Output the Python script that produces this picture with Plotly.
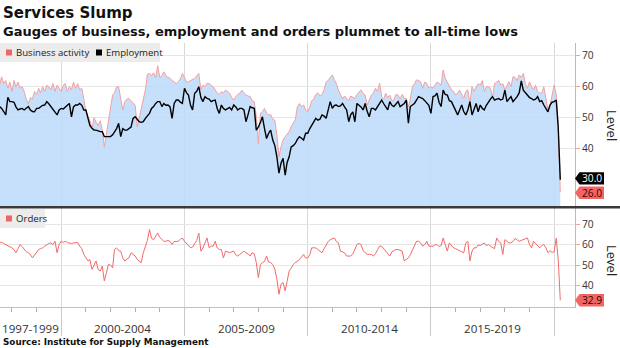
import pandas as pd
import plotly.graph_objects as go

# ---------------- data (monthly, Jul 1997 - Apr 2020) ----------------
start_month = "1997-07-01"

business_activity = [
    60.5, 63.2, 61.0, 62.0, 59.5, 61.5,                                  # 1997 H2
    58.5, 62.0, 60.0, 61.5, 59.5, 60.0, 58.5, 56.0, 54.5, 56.5, 56.0, 58.5,  # 1998
    57.5, 59.5, 58.0, 60.0, 58.5, 60.5, 60.0, 59.0, 61.0, 58.5, 60.5, 59.5,  # 1999
    58.5, 60.5, 61.0, 58.5, 60.0, 59.0, 61.5, 59.5, 61.0, 59.0, 59.5, 56.0,  # 2000
    52.0, 50.5, 49.0, 46.5, 50.0, 48.5, 47.5, 49.0, 46.0, 40.6, 44.5, 48.5,  # 2001
    53.5, 57.3, 58.0, 60.0, 60.0, 56.5, 52.5, 55.2, 56.0, 56.2, 55.5, 55.0,  # 2002
    54.0, 47.1, 50.0, 53.5, 56.0, 58.9, 64.0, 64.3, 63.5, 64.5, 63.0, 66.8,  # 2003
    63.0, 63.5, 64.8, 63.5, 63.0, 62.7, 62.0, 61.5, 61.0, 61.6, 62.5, 64.3,  # 2004
    62.7, 61.5, 61.6, 62.0, 62.2, 62.7, 63.5, 64.3, 59.0, 60.5, 60.0, 61.1,  # 2005
    61.0, 60.5, 60.0, 59.0, 57.9, 57.5, 58.4, 58.0, 58.9, 58.5, 57.9, 56.5,  # 2006
    55.7, 56.8, 57.5, 57.9, 58.9, 58.0, 57.3, 57.0, 56.8, 55.5, 55.2, 50.3,  # 2007
    41.7, 51.4, 52.0, 53.0, 51.5, 50.9, 51.0, 49.5, 49.2, 44.4, 37.4, 40.6,  # 2008
    42.8, 43.9, 44.5, 45.5, 47.1, 48.5, 49.3, 53.6, 54.6, 53.5, 54.1, 52.5,  # 2009
    52.0, 53.5, 55.5, 56.0, 57.5, 58.0, 57.0, 57.5, 59.0, 61.5, 62.0, 63.0,  # 2010
    63.8, 62.2, 61.0, 58.9, 57.5, 56.0, 57.0, 56.2, 55.5, 57.0, 56.5, 56.2,  # 2011
    57.5, 58.4, 59.0, 57.8, 57.3, 54.1, 56.0, 57.3, 58.0, 59.5, 58.5, 61.1,  # 2012
    56.8, 56.0, 57.9, 56.5, 57.3, 55.5, 55.7, 57.5, 57.3, 56.0, 57.5, 56.2,  # 2013
    56.2, 53.5, 56.0, 60.0, 61.0, 62.2, 62.0, 61.6, 59.5, 61.5, 61.1, 59.5,  # 2014
    60.0, 59.5, 60.5, 61.5, 61.1, 60.5, 65.4, 62.7, 61.5, 60.0, 59.0, 58.5,  # 2015
    57.3, 58.0, 58.9, 57.5, 56.2, 58.5, 59.0, 54.5, 60.0, 58.5, 60.0, 61.0,  # 2016
    60.5, 62.0, 58.5, 60.0, 60.0, 59.5, 56.5, 61.0, 61.5, 62.0, 60.5, 61.0,  # 2017
    58.9, 60.5, 61.6, 60.0, 63.2, 63.0, 62.0, 63.8, 63.0, 64.3, 61.0, 59.5,  # 2018
    61.6, 60.0, 59.0, 60.5, 58.5, 57.9, 58.0, 60.0, 55.5, 52.5, 54.0, 57.0,  # 2019
    60.5, 57.5, 48.0, 26.0,                                              # 2020
]

employment = [
    53.6, 53.0, 52.0, 50.9, 56.6, 55.2,
    55.2, 55.0, 53.5, 52.5, 52.8, 53.0, 52.5, 53.0, 53.6, 52.5, 52.0, 51.9,
    53.0, 53.0, 53.6, 54.0, 54.1, 55.2, 54.5, 53.6, 53.0, 52.0, 50.9, 52.5,
    53.0, 52.8, 53.5, 54.0, 54.6, 50.3, 53.5, 54.1, 54.1, 54.6, 54.0, 52.5,
    52.5, 50.3, 47.5, 46.6, 46.0, 46.0, 45.7, 45.5, 45.5, 43.9, 43.9, 43.9,
    43.9, 44.5, 45.5, 46.5, 48.2, 43.9, 46.5, 46.0, 46.0, 46.5, 47.0, 49.8,
    50.3, 49.5, 48.7, 48.5, 48.7, 49.8, 50.5, 51.4, 53.0, 53.6, 54.6, 55.2,
    55.2, 53.6, 54.6, 54.0, 54.1, 53.5, 49.8, 54.6, 55.7, 55.7, 55.0, 54.6,
    59.5, 58.0, 57.3, 54.0, 52.5, 57.9, 58.5, 60.0, 56.5, 55.2, 56.8, 56.2,
    56.0, 55.2, 55.5, 55.7, 53.0, 51.4, 54.1, 53.0, 52.5, 53.0, 53.3, 52.5,
    54.1, 53.5, 52.5, 53.0, 53.0, 52.5, 48.7, 51.0, 53.6, 53.2, 53.0, 46.0,
    47.0, 48.5, 50.3, 46.5, 43.3, 45.0, 46.0, 42.8, 41.0, 37.4, 32.1, 35.3,
    36.9, 31.5, 35.5, 37.4, 40.6, 41.0, 41.7, 43.0, 43.9, 43.4, 42.8, 45.0,
    45.0, 46.5, 47.6, 48.5, 49.8, 49.2, 49.5, 50.9, 50.5, 49.8, 52.5, 55.2,
    53.0, 54.0, 54.1, 53.6, 53.8, 54.6, 53.5, 52.5, 48.7, 51.0, 51.9, 48.7,
    54.6, 54.1, 53.5, 52.5, 54.6, 52.0, 50.3, 53.0, 53.0, 52.5, 53.5, 54.6,
    55.7, 54.5, 53.6, 52.5, 55.2, 54.0, 53.6, 54.5, 55.2, 53.6, 54.0, 54.6,
    55.7, 48.2, 53.6, 54.1, 54.6, 55.7, 56.8, 56.5, 56.2, 55.5, 54.6, 54.0,
    51.4, 56.8, 57.0, 57.9, 55.0, 53.6, 58.9, 57.5, 57.3, 55.5, 55.2, 53.6,
    52.5, 50.9, 52.5, 54.1, 52.0, 50.9, 52.5, 55.2, 50.9, 53.0, 54.6, 51.9,
    54.1, 53.0, 52.5, 54.0, 55.2, 56.0, 56.8, 55.7, 56.0, 56.2, 55.7, 56.0,
    58.9, 55.2, 56.0, 56.8, 55.2, 56.0, 56.8, 58.0, 61.9, 58.9, 58.0, 57.3,
    56.5, 56.2, 55.7, 56.0, 56.8, 55.2, 55.5, 54.1, 53.0, 51.9, 54.1, 55.0,
    55.2, 55.7, 47.0, 30.0,
]

orders = [
    60.8, 61.1, 60.5, 60.0, 59.5, 59.2,
    58.4, 57.5, 56.0, 58.0, 60.0, 59.0, 57.6, 56.5, 56.0, 55.2, 53.5, 55.0,
    56.0, 57.6, 58.0, 58.4, 59.2, 60.0, 60.5, 60.8, 60.0, 61.6, 56.0, 60.0,
    61.6, 61.0, 61.6, 61.0, 60.8, 60.5, 60.8, 60.8, 61.0, 59.2, 58.0, 55.2,
    53.5, 52.0, 52.7, 47.9, 50.0, 52.0, 47.9, 47.1, 49.5, 42.3, 46.3, 50.3,
    50.0, 48.7, 57.6, 58.4, 57.0, 56.8, 53.5, 52.0, 53.0, 53.5, 56.0, 55.0,
    54.4, 52.7, 52.0, 51.2, 56.0, 59.2, 62.0, 67.3, 63.0, 62.4, 64.0, 65.6,
    63.5, 62.4, 61.6, 61.6, 62.0, 61.5, 60.0, 61.5, 61.6, 61.6, 62.5, 63.2,
    61.6, 60.5, 59.2, 58.4, 58.8, 60.8, 62.0, 65.6, 56.8, 58.4, 61.0, 63.2,
    58.5, 59.2, 59.2, 61.6, 58.4, 57.6, 57.6, 53.5, 56.8, 56.5, 56.0, 56.5,
    56.8, 55.0, 54.4, 55.2, 56.0, 56.8, 56.0, 55.5, 54.4, 56.0, 55.5, 51.2,
    43.9, 50.3, 51.2, 51.8, 54.4, 51.5, 51.2, 50.3, 48.0, 43.1, 35.8, 40.7,
    41.5, 37.5, 42.0, 47.1, 48.5, 50.3, 51.2, 52.0, 52.7, 54.0, 55.2, 53.5,
    53.5, 55.0, 58.4, 58.4, 58.4, 57.6, 57.0, 56.0, 58.0, 60.0, 61.5, 62.4,
    63.0, 63.2, 61.5, 60.8, 56.8, 56.5, 56.0, 54.4, 54.4, 54.4, 55.5, 57.5,
    60.0, 60.5, 60.0, 57.0, 56.0, 55.2, 55.2, 55.2, 54.4, 55.5, 57.5, 59.2,
    59.2, 58.0, 57.0, 56.0, 54.4, 56.5, 57.0, 57.6, 57.6, 57.0, 56.8, 52.0,
    53.0, 53.5, 55.0, 57.0, 59.2, 61.6, 61.6, 60.8, 59.2, 60.0, 61.6, 59.2,
    59.2, 59.2, 59.8, 60.0, 59.0, 59.5, 63.2, 59.5, 56.8, 60.8, 59.5, 58.4,
    58.0, 57.6, 57.0, 56.5, 56.0, 60.8, 61.6, 52.0, 56.8, 58.4, 58.4, 59.8,
    59.5, 60.0, 60.8, 59.5, 60.0, 59.2, 58.4, 58.0, 63.2, 61.5, 60.8, 55.2,
    62.4, 61.5, 60.8, 60.8, 61.5, 63.0, 62.4, 61.6, 62.0, 62.5, 63.0, 63.2,
    60.0, 58.4, 61.6, 60.5, 59.0, 58.4, 59.5, 60.0, 58.4, 56.0, 57.0, 56.2,
    56.5, 63.1, 52.9, 32.9,
]

period_labels = ["1997-1999", "2000-2004", "2005-2009", "2010-2014", "2015-2019"]
top_ticks = [40, 50, 60, 70]
bottom_ticks = [40, 50, 60, 70]

assert len(business_activity) == len(employment) == len(orders) == 274

dates = pd.date_range(start_month, periods=len(business_activity), freq="MS")

# ---------------- geometry / style ----------------
W, H = 620, 348
ML, MR, MT, MB = 0, 45, 43, 41
PW = W - ML - MR           # 575
PH = H - MT - MB           # 264
X_RANGE = ["1997-07-08", "2020-11-05"]
TOP_RANGE = [21.2, 74.1]
BOT_RANGE = [29.6, 77.8]
TOP_DOM = [(307 - 207) / PH, 1.0]
BOT_DOM = [0.0, (307 - 208) / PH]

def py(px):               # pixel y -> paper y
    return (MT + PH - px) / PH

def pxx(px):              # pixel x -> paper x
    return (px - ML) / PW

TICK_FONT = dict(family="Open Sans", size=10.2, color="#333333")
GRID = "#e6e6e6"
AXIS_RED = "#f4a3a3"
BA_LINE = "#f4a0a0"
BA_FILL = "rgba(188,218,250,0.85)"
ORD_LINE = "#f26a6a"
RED_BOX = "#f26565"

fig = go.Figure()
fig.add_trace(go.Scatter(x=dates, y=business_activity, mode="lines",
                         line=dict(color=BA_LINE, width=1),
                         fill="tozeroy", fillcolor=BA_FILL,
                         xaxis="x", yaxis="y", showlegend=False, hoverinfo="skip"))
fig.add_trace(go.Scatter(x=dates, y=employment, mode="lines",
                         line=dict(color="#000000", width=1.4),
                         xaxis="x", yaxis="y", showlegend=False, hoverinfo="skip"))
fig.add_trace(go.Scatter(x=dates, y=orders, mode="lines",
                         line=dict(color=ORD_LINE, width=1),
                         xaxis="x2", yaxis="y2", showlegend=False, hoverinfo="skip"))

common_x = dict(type="date", range=X_RANGE, dtick="M60", tick0="2000-01-01",
                showgrid=True, gridcolor="#d9d9d9", gridwidth=1, zeroline=False,
                showticklabels=False)

shapes = []
annotations = []

# separator between panels
shapes.append(dict(type="line", xref="paper", yref="paper", x0=0, x1=pxx(W),
                   y0=py(207.3), y1=py(207.3), line=dict(color="#3a3a3a", width=2.6)))

# legends
def legend_block(x0, x1, y0, y1, items):
    shapes.append(dict(type="rect", xref="paper", yref="paper", x0=pxx(x0), x1=pxx(x1),
                       y0=py(y1), y1=py(y0), fillcolor="#ececec", line=dict(width=0),
                       layer="above"))
    yc = (y0 + y1) / 2
    for sx, label, color in items:
        shapes.append(dict(type="rect", xref="paper", yref="paper",
                           x0=pxx(sx), x1=pxx(sx + 6), y0=py(yc + 3), y1=py(yc - 3),
                           fillcolor=color, line=dict(width=0), layer="above"))
        annotations.append(dict(text=label, xref="paper", yref="paper", x=pxx(sx + 8),
                                y=py(yc), xanchor="left", yanchor="middle", showarrow=False,
                                font=dict(family="Open Sans", size=9.6, color="#222222")))

legend_block(0, 160, 43, 62, [(6, "Business activity", "#f26565"), (96, "Employment", "#000000")])
legend_block(0, 45, 209, 228, [(6, "Orders", "#f26565")])

# value boxes
def pennant(yref, yval, px_per_unit, text, bg, fg, shift):
    hh = 6.2 / px_per_unit
    yc = yval + shift / px_per_unit
    tip, left, right = pxx(575), pxx(579.5), pxx(604)
    path = (f"M {tip},{yc} L {left},{yc + hh} L {right},{yc + hh} "
            f"L {right},{yc - hh} L {left},{yc - hh} Z")
    shapes.append(dict(type="path", xref="paper", yref=yref, path=path,
                       fillcolor=bg, line=dict(width=0), layer="above"))
    annotations.append(dict(text=text, xref="paper", yref=yref, x=pxx(591.5), y=yc,
                            xanchor="center", yanchor="middle", showarrow=False,
                            borderpad=0, borderwidth=0,
                            font=dict(family="Open Sans", size=10.2, color=fg)))

top_ppu = (207 - 43) / (TOP_RANGE[1] - TOP_RANGE[0])
bot_ppu = (307 - 208) / (BOT_RANGE[1] - BOT_RANGE[0])
pennant("y", employment[-1], top_ppu, f"{employment[-1]:.1f}", "#000000", "#ffffff", 1.3)
pennant("y", business_activity[-1], top_ppu, f"{business_activity[-1]:.1f}", RED_BOX, "#3a0000", -0.6)
pennant("y2", orders[-1], bot_ppu, f"{orders[-1]:.1f}", RED_BOX, "#3a0000", 0)

# "Level" titles
for yc in (125, 260):
    annotations.append(dict(text="Level", xref="paper", yref="paper", x=pxx(612), y=py(yc),
                            xanchor="center", yanchor="middle", textangle=90, showarrow=False,
                            font=dict(family="Open Sans", size=13, color="#222222")))

# period labels along the bottom axis
first = dates[0]
for lab in period_labels:
    a, b = lab.split("-")
    s = max(pd.Timestamp(f"{a}-01-01"), first)
    e = pd.Timestamp(f"{int(b) + 1}-01-01")
    mid = s + (e - s) / 2
    annotations.append(dict(text=lab, xref="x2", yref="paper", x=mid, y=py(328),
                            xanchor="center", yanchor="middle", showarrow=False,
                            font=dict(family="Open Sans", size=11.6, color="#333333")))

# titles and source
annotations.append(dict(text="Services Slump", xref="paper", yref="paper", x=pxx(1), y=py(13),
                        xanchor="left", yanchor="middle", showarrow=False,
                        font=dict(family="DejaVu Sans", size=15, color="#111111", weight="bold")))
annotations.append(dict(text="Gauges of business, employment and orders plummet to all-time lows",
                        xref="paper", yref="paper", x=pxx(1), y=py(32),
                        xanchor="left", yanchor="middle", showarrow=False,
                        font=dict(family="DejaVu Sans", size=13, color="#111111", weight="bold")))
annotations.append(dict(text="Source: Institute for Supply Management",
                        xref="paper", yref="paper", x=pxx(1), y=py(342),
                        xanchor="left", yanchor="middle", showarrow=False,
                        font=dict(family="DejaVu Sans", size=8.8, color="#111111", weight="bold")))

fig.update_layout(
    width=W, height=H,
    margin=dict(l=ML, r=MR, t=MT, b=MB, pad=0),
    paper_bgcolor="#ffffff", plot_bgcolor="#ffffff",
    showlegend=False, hovermode=False,
    xaxis=dict(**common_x, domain=[0, 1], anchor="y", ticks=""),
    xaxis2=dict(**common_x, domain=[0, 1], anchor="y2", matches="x",
                ticks="outside", ticklen=28, tickcolor="#c8c8c8", tickwidth=1,
                showline=True, linecolor="#c0c0c0", linewidth=1,
                minor=dict(ticks="outside", ticklen=4, dtick="M12", tick0="2000-01-01",
                           tickcolor="#b0b0b0", showgrid=False)),
    yaxis=dict(domain=TOP_DOM, anchor="x", side="right", range=TOP_RANGE,
               tickvals=top_ticks, showgrid=True, gridcolor=GRID, zeroline=False,
               showline=True, linecolor=AXIS_RED, linewidth=1,
               ticks="outside", ticklen=4, tickcolor=AXIS_RED, tickfont=TICK_FONT),
    yaxis2=dict(domain=BOT_DOM, anchor="x2", side="right", range=BOT_RANGE,
                tickvals=bottom_ticks, showgrid=True, gridcolor=GRID, zeroline=False,
                showline=True, linecolor=AXIS_RED, linewidth=1,
                ticks="outside", ticklen=4, tickcolor=AXIS_RED, tickfont=TICK_FONT),
    shapes=shapes,
    annotations=annotations,
)

fig.write_html("out.html")
